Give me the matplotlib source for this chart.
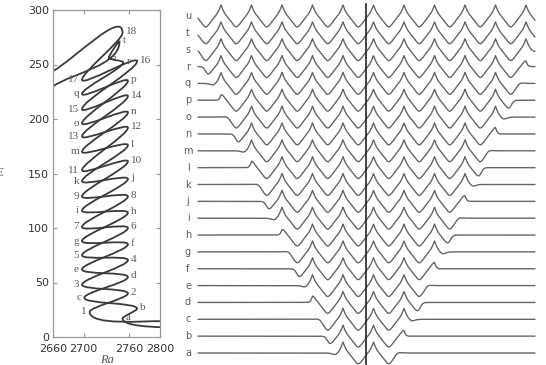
import numpy as np
import matplotlib
matplotlib.use("Agg")
import matplotlib.pyplot as plt
from matplotlib.path import Path
from matplotlib.patches import PathPatch

# ---------------- data: snaking diagram (Ra, E) ----------------
# letter branch: start at right edge, folds a..q, then r, s, t, exit left
letter_ra = [2800, 2751, 2770, 2701, 2758, 2698, 2758, 2698, 2758, 2698, 2758, 2698, 2758, 2698, 2758, 2698, 2758, 2698, 2752, 2733, 2747, 2660]
letter_e = [9, 17, 26, 36, 55, 62, 85, 88, 114, 116, 145, 143, 176, 170, 206, 196, 235, 223, 252, 256, 271, 230]
letter_names = ["", "a", "b", "c", "d", "e", "f", "g", "h", "i", "j", "k", "l", "m", "n", "o", "p", "q", "r", "s", "t", ""]
# number branch: start at right edge, folds 1..18, exit left
number_ra = [2800, 2708, 2758, 2698, 2758, 2698, 2758, 2698, 2758, 2698, 2758, 2698, 2758, 2698, 2758, 2698, 2770, 2698, 2751, 2660]
number_e = [14.5, 23, 40, 48, 70.5, 75, 100, 101, 129, 129, 161, 153, 192, 184, 221, 209, 253, 236, 279, 244]
number_names = [""] + [str(i) for i in range(1, 19)] + [""]

x_ticks = [2660, 2700, 2760, 2800]
y_ticks = [0, 50, 100, 150, 200, 250, 300]

# ---------------- data: profiles ----------------
row_labels = list("abcdefghijklmnopqrstu")
left_edge = [-31, -38, -46, -54, -61, -69, -77, -84, -92, -99, -107, -115, -122, -130, -138, -145, -153, -160, -168, -176, -183]
right_edge = [31, 38, 46, 54, 61, 69, 77, 84, 92, 99, 107, 115, 122, 130, 138, 145, 153, 160, 168, 176, 183]
# one period of the cellular pattern: cusp crest at phase 0, V-like trough at 0.5
cell_phase = [0, .04, .08, .13, .20, .30, .40, .46, .5, .54, .60, .70, .80, .87, .92, .96, 1]
cell_value = [1, .70, .45, .20, -.05, -.40, -.78, -.95, -1, -.95, -.78, -.40, -.05, .20, .45, .70, 1]
wavelength = 30.5
peak_ref = 7.5
domain = (-168, 169)

# ---------------- figure ----------------
W, H = 546, 365
fig = plt.figure(figsize=(W / 100, H / 100), dpi=100)
serif = ["Liberation Serif", "DejaVu Serif"]
sans = ["DejaVu Sans"]
gray_txt = "#5a5a5a"

ax = fig.add_axes([53 / W, 28 / H, 107 / W, 327 / H])
ax.set_xlim(2660, 2800)
ax.set_ylim(0, 300)
for s in ax.spines.values():
    s.set_color("#999999")
    s.set_linewidth(0.9)
ax.set_xticks(x_ticks)
ax.set_yticks(y_ticks)
ax.tick_params(direction="in", length=3, width=0.8, color="#999999",
               top=True, right=True, labelsize=8, labelcolor="#333333")
ax.tick_params(axis="x", pad=5)
ax.tick_params(axis="y", pad=3)
for lab in ax.get_xticklabels() + ax.get_yticklabels():
    lab.set_family(sans)
ax.set_xlabel("Ra", family=serif, style="italic", fontsize=9, color=gray_txt, labelpad=0)
fig.text(3 / W, 1 - 173 / H, "E", family=serif, style="italic", fontsize=9,
         color=gray_txt, ha="right", va="center")

sx = 107 / 140.0
sy = 327 / 300.0


def branch_path(ra, e, k=0.12):
    P = np.column_stack([(np.array(ra) - 2660) * sx, np.array(e) * sy])
    n = len(P)
    tang = []
    for i in range(n):
        if i == 0:
            d = P[1] - P[0]
            d = np.array([d[0], 0.25 * d[1]])
        elif i == n - 1:
            d = P[i] - P[i - 1]
        else:
            d = np.array([0.0, 1.0 if P[i + 1][1] - P[i - 1][1] >= 0 else -1.0])
        tang.append(d / np.hypot(*d))
    verts = [P[0]]
    codes = [Path.MOVETO]
    for i in range(n - 1):
        L = np.hypot(*(P[i + 1] - P[i]))
        kk = 0.3 if i == n - 2 else (0.2 if i == 0 else k)
        verts += [P[i] + kk * L * tang[i], P[i + 1] - kk * L * tang[i + 1], P[i + 1]]
        codes += [Path.CURVE4] * 3
    V = np.array(verts)
    V[:, 0] = V[:, 0] / sx + 2660
    V[:, 1] = V[:, 1] / sy
    return Path(V, codes)


for ra, e in [(letter_ra, letter_e), (number_ra, number_e)]:
    ax.add_patch(PathPatch(branch_path(ra, e), fc="none", ec="#3a3a3a", lw=1.3,
                           clip_on=True))


def place_labels(ra, e, names):
    for r, ev, nm in zip(ra, e, names):
        if not nm:
            continue
        if r < 2730:
            ax.text(r - 4, ev, nm, ha="right", va="center", family=serif,
                    fontsize=8, color=gray_txt)
        else:
            ax.text(r + 4, ev + 1, nm, ha="left", va="center", family=serif,
                    fontsize=8, color=gray_txt)


place_labels(letter_ra, letter_e, letter_names)
place_labels(number_ra, number_e, number_names)

# ---------------- profiles panel ----------------
ax2 = fig.add_axes([170 / W, 0, 376 / W, 1])
ax2.set_xlim(-196, 180)
row_px = 16.85
ax2.set_ylim(-12 / row_px, 20 + 16 / row_px)
ax2.axis("off")
amp = 11 / row_px
x = np.linspace(domain[0], domain[1], 2500)
phase = np.mod((x - peak_ref) / wavelength, 1.0)
wave = np.interp(phase, cell_phase, cell_value)
w = 3.2
for i, lab in enumerate(row_labels):
    env = 0.5 * (1 + np.tanh((x - left_edge[i]) / w)) * 0.5 * (1 + np.tanh((right_edge[i] - x) / w))
    ax2.plot(x, i + amp * env * wave, color="#666666", lw=1.0, solid_capstyle="round")
    ax2.text(-178, i, lab, ha="center", va="center", family=sans, fontsize=7, color=gray_txt)
ax2.plot([0, 0], [-12 / row_px, 20 + 12 / row_px], color="#222222", lw=1.2)

fig.savefig("out.png", dpi=100)
